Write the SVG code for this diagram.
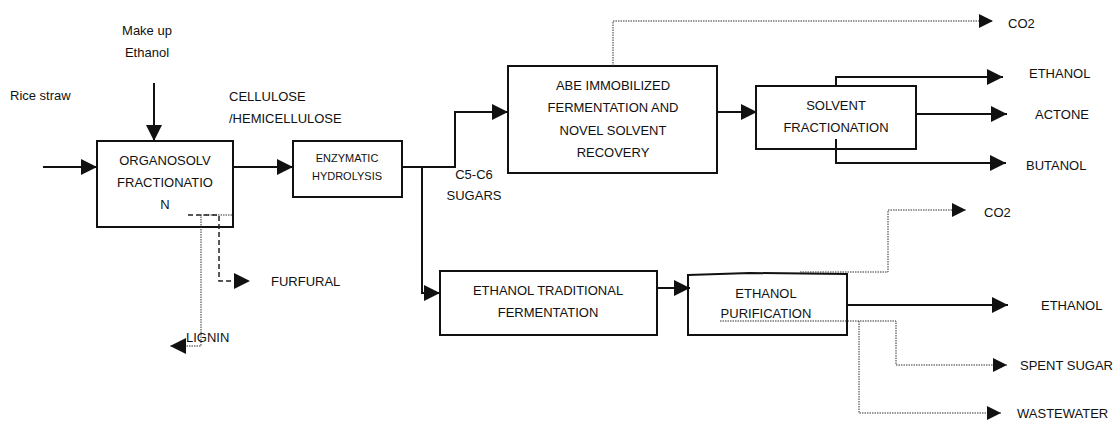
<svg xmlns="http://www.w3.org/2000/svg" width="1114" height="422" viewBox="0 0 1114 422">
<style>
text{font-family:"Liberation Sans",Arial,sans-serif;font-size:13px;fill:#111}
.box{fill:none;stroke:#111;stroke-width:2}
.ln{fill:none;stroke:#111;stroke-width:2}
.dot{fill:none;stroke:#333;stroke-width:1;stroke-dasharray:1.5 1}
.dash{fill:none;stroke:#222;stroke-width:1.5;stroke-dasharray:5 3}
.c{text-anchor:middle}
.s{font-size:11px}
</style>
<defs>
<marker id="ah" viewBox="0 0 16 16" refX="16" refY="8" markerWidth="16" markerHeight="16" markerUnits="userSpaceOnUse" orient="auto"><path d="M0,0 L16,8 L0,16 z" fill="#111"/></marker>
<marker id="ahs" viewBox="0 0 14 14" refX="14" refY="7" markerWidth="15" markerHeight="14" markerUnits="userSpaceOnUse" orient="auto"><path d="M0,0 L14,7 L0,14 z" fill="#111"/></marker>
</defs>
<g id="organosolv">
<rect class="box" x="97" y="141" width="136" height="86"/>
<text x="165" y="165" class="c">ORGANOSOLV</text>
<text x="165" y="187" class="c">FRACTIONATIO</text>
<text x="165" y="209" class="c">N</text>
</g>
<g id="enzymatic">
<rect class="box" x="293" y="141" width="109" height="56"/>
<text x="347" y="162" class="c s">ENZYMATIC</text>
<text x="347" y="180" class="c s">HYDROLYSIS</text>
</g>
<g id="abe">
<rect class="box" x="508" y="66" width="209" height="107"/>
<text x="613" y="90" class="c">ABE IMMOBILIZED</text>
<text x="613" y="112" class="c">FERMENTATION AND</text>
<text x="613" y="135" class="c">NOVEL SOLVENT</text>
<text x="613" y="157" class="c">RECOVERY</text>
</g>
<g id="solvent">
<rect class="box" x="756" y="86" width="160" height="63"/>
<text x="836" y="110" class="c">SOLVENT</text>
<text x="836" y="132" class="c">FRACTIONATION</text>
</g>
<g id="ethanol-fermentation">
<rect class="box" x="440" y="271" width="217" height="64"/>
<text x="548" y="295" class="c">ETHANOL TRADITIONAL</text>
<text x="548" y="317" class="c">FERMENTATION</text>
</g>
<g id="ethanol-purification">
<path class="box" d="M688,275 L750,273 L847,274 L847,335 L688,335 Z"/>
<text x="766" y="298" class="c">ETHANOL</text>
<text x="766" y="318" class="c">PURIFICATION</text>
</g>
<g id="connectors">
<line class="ln" x1="43" y1="167" x2="97" y2="167" marker-end="url(#ah)"/>
<line class="ln" x1="154" y1="83" x2="154" y2="141" marker-end="url(#ah)"/>
<line class="ln" x1="233" y1="167" x2="293" y2="167" marker-end="url(#ah)"/>
<polyline class="ln" points="402,167 455,167 455,112 508,112" marker-end="url(#ah)"/>
<polyline class="ln" points="422,167 422,293 440,293" marker-end="url(#ah)"/>
<polyline class="dot" points="613,66 613,21 993,21" marker-end="url(#ahs)"/>
<line class="ln" x1="717" y1="112" x2="757" y2="112" marker-end="url(#ah)"/>
<polyline class="ln" points="836,86 836,77 1003,77" marker-end="url(#ah)"/>
<line class="ln" x1="916" y1="114" x2="1007" y2="114" marker-end="url(#ah)"/>
<polyline class="ln" points="836,139 836,163 1006,163" marker-end="url(#ah)"/>
<line class="ln" x1="657" y1="288" x2="690" y2="288" marker-end="url(#ah)"/>
<polyline class="dot" points="800,272 888,272 888,210 966,210" marker-end="url(#ahs)"/>
<line class="ln" x1="847" y1="305" x2="1008" y2="305" marker-end="url(#ah)"/>
<polyline class="dot" points="720,321 896,321 896,365 1007,365" marker-end="url(#ahs)"/>
<polyline class="dot" points="859,321 859,413 1001,413" marker-end="url(#ahs)"/>
<polyline class="dot" points="232,215 201,215 201,346 170,346" marker-end="url(#ah)"/>
<polyline class="dash" points="188,215 219,215 219,281 250,281" marker-end="url(#ah)"/>
</g>
<g id="labels">
<text x="147" y="35" class="c">Make up</text>
<text x="147" y="57" class="c">Ethanol</text>
<text x="10" y="100">Rice straw</text>
<text x="229" y="101">CELLULOSE</text>
<text x="229" y="123">/HEMICELLULOSE</text>
<text x="474" y="179" class="c">C5-C6</text>
<text x="474" y="200" class="c">SUGARS</text>
<text x="1008" y="28">CO2</text>
<text x="1029" y="78">ETHANOL</text>
<text x="1035" y="119">ACTONE</text>
<text x="1026" y="170">BUTANOL</text>
<text x="984" y="217">CO2</text>
<text x="1041" y="310">ETHANOL</text>
<text x="1020" y="370">SPENT SUGAR</text>
<text x="1017" y="418">WASTEWATER</text>
<text x="271" y="286">FURFURAL</text>
<text x="186" y="342">LIGNIN</text>
</g>
</svg>
